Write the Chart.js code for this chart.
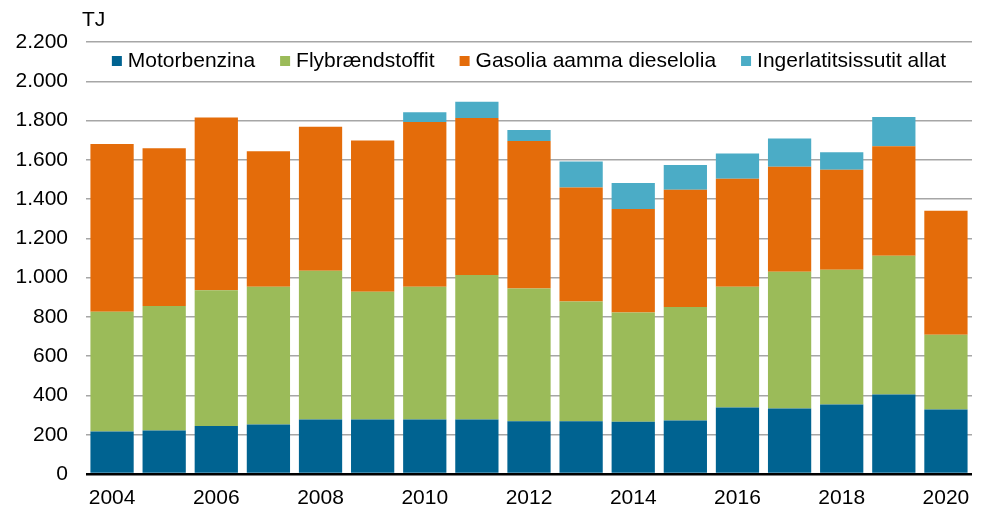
<!DOCTYPE html>
<html>
<head>
<meta charset="utf-8">
<script src="https://cdn.jsdelivr.net/npm/chart.js@4.4.1/dist/chart.umd.min.js"></script>
<style>
  html, body { margin: 0; padding: 0; background: #fff; }
  #wrap { width: 983px; height: 513px; position: relative; }
</style>
</head>
<body>
<div id="wrap"><canvas id="chart"></canvas></div>
<script>
const years = ["2004", "2005", "2006", "2007", "2008", "2009", "2010", "2011", "2012",
  "2013", "2014", "2015", "2016", "2017", "2018", "2019", "2020"];

// TJ per fuel type
const motorbenzina = [217, 222, 244, 252, 278, 278, 278, 278, 268, 268, 266, 273, 339, 334, 354, 405, 329];
const flybraendstoffit = [609, 633, 692, 701, 757, 650, 675, 736, 677, 610, 556, 578, 614, 696, 686, 707, 380];
const gasolia = [855, 804, 879, 691, 734, 770, 840, 799, 751, 581, 528, 596, 551, 535, 510, 557, 631];
const ingerlatitsissutit = [0, 0, 0, 0, 0, 0, 49, 83, 56, 132, 132, 126, 128, 143, 89, 149, 0];

const seriesNames = ["Motorbenzina", "Flybrændstoffit", "Gasolia aamma dieselolia", "Ingerlatitsissutit allat"];
const seriesColors = ["#006391", "#9bbb59", "#e46c0a", "#4bacc6"];

const FONT = '"Liberation Sans", Arial, sans-serif';

// legend drawn inside the plot area, plus the unit label
const overlay = {
  id: "overlay",
  afterDraw(chart) {
    const ctx = chart.ctx;
    ctx.save();
    ctx.font = "21px " + FONT;
    ctx.fillStyle = "#000";
    ctx.textBaseline = "middle";
    ctx.textAlign = "left";
    ctx.fillText("TJ", 82, 20);

    const box = 10, gapText = 6, gapItem = 25;
    const widths = seriesNames.map(n => box + gapText + ctx.measureText(n).width);
    const total = widths.reduce((a, b) => a + b, 0) + gapItem * (widths.length - 1);
    const area = chart.chartArea;
    let x = (area.left + area.right) / 2 - total / 2;
    const y = 61;
    seriesNames.forEach((n, i) => {
      ctx.fillStyle = seriesColors[i];
      ctx.fillRect(x, y - box / 2, box, box);
      ctx.fillStyle = "#000";
      ctx.fillText(n, x + box + gapText, y);
      x += widths[i] + gapItem;
    });
    ctx.restore();
  }
};

const seriesData = [motorbenzina, flybraendstoffit, gasolia, ingerlatitsissutit];

new Chart(document.getElementById("chart"), {
  type: "bar",
  data: {
    labels: years,
    datasets: seriesNames.map((name, i) => ({
      label: name,
      data: seriesData[i],
      backgroundColor: seriesColors[i],
      borderWidth: 0,
      categoryPercentage: 1,
      barPercentage: 0.83
    }))
  },
  options: {
    responsive: true,
    maintainAspectRatio: false,
    animation: false,
    layout: { padding: { top: 42, right: 11, left: 0, bottom: 0 } },
    plugins: {
      legend: { display: false },
      tooltip: { enabled: false }
    },
    scales: {
      x: {
        stacked: true,
        grid: { display: false, drawTicks: false },
        border: { display: false },
        ticks: {
          autoSkip: false,
          maxRotation: 0,
          padding: 12,
          color: "#000",
          font: { family: FONT, size: 21 },
          callback: (v, i) => (i % 2 === 0 ? years[i] : "")
        },
        afterFit: (s) => { s.height = 39; }
      },
      y: {
        stacked: true,
        min: 0,
        max: 2200,
        grid: {
          drawTicks: false,
          color: (c) => (c.tick && c.tick.value === 0 ? "#000" : "#a6a6a6"),
          lineWidth: (c) => (c.tick && c.tick.value === 0 ? 2.5 : 1.5)
        },
        border: { display: false },
        ticks: {
          stepSize: 200,
          padding: 18,
          color: "#000",
          font: { family: FONT, size: 21 },
          callback: (v) => String(v).replace(/\B(?=(\d{3})+(?!\d))/g, ".")
        },
        afterFit: (s) => { s.width = 86; }
      }
    }
  },
  plugins: [overlay]
});
</script>
</body>
</html>
